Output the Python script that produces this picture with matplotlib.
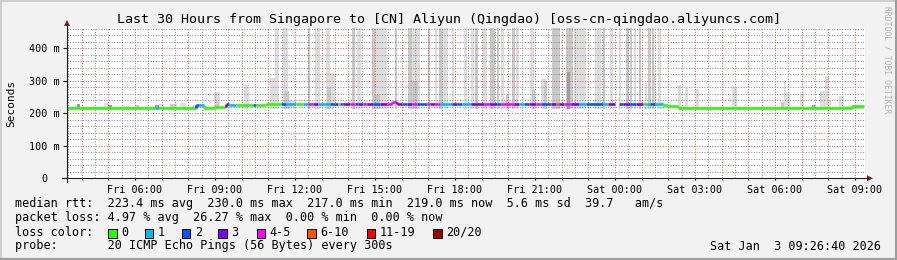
import numpy as np
import matplotlib.pyplot as plt
from matplotlib.patches import Rectangle, Polygon
from matplotlib.lines import Line2D
from matplotlib.ticker import MultipleLocator
from matplotlib.transforms import ScaledTranslation

# time axis: hours since Fri 00:00
# median rtt line, one segment per entry (start hour, ms, loss class)
seg_start = [3.45, 6.76, 6.89, 8.29, 8.41, 8.60, 8.98, 9.41, 9.54, 9.79, 10.41, 10.54,
             10.91, 11.48, 11.66, 12.04, 12.29, 12.48, 12.66, 12.85, 13.31, 13.50, 13.63,
             13.69, 13.81, 14.06, 14.25, 14.38, 14.56, 14.69, 14.94, 15.19, 15.44, 15.63,
             15.81, 16.00, 16.19, 16.38, 16.56, 16.94, 17.06, 17.25, 17.44, 17.88, 18.06,
             18.25, 18.59, 19.09, 19.28, 19.59, 19.71, 20.21, 20.40, 20.59, 20.78, 21.03,
             21.21, 21.59, 21.78, 21.90, 22.09, 22.34, 22.65, 22.90, 23.55, 23.74, 23.99,
             24.14, 24.30, 24.55, 24.80, 25.05, 25.18, 25.30, 25.49, 25.80, 26.00, 26.36,
             32.89]
seg_ms = [216, 216, 216, 224, 224, 216, 219, 229, 224, 224, 224, 226,
          229, 229, 229, 229, 229, 229, 229, 229, 229, 229, 229,
          229, 229, 229, 229, 229, 229, 229, 229, 229, 229, 234,
          229, 229, 229, 229, 229, 229, 229, 229, 229, 229, 229,
          229, 229, 229, 229, 229, 229, 229, 229, 229, 229, 229,
          229, 229, 229, 229, 229, 229, 229, 229, 229, 229, np.nan,
          229, 229, 229, 229, 229, 229, 229, 229, 226, 222, 217,
          222]
seg_loss = [0, 1, 0, 2, 1, 0, 0, 3, 1, 0, 2, 0,
            0, 2, 1, 0, 1, 4, 3, 1, 2, 3, 0,
            2, 3, 4, 2, 3, 4, 3, 2, 3, 4, 4,
            3, 2, 3, 4, 2, 4, 3, 4, 1, 3, 2,
            1, 3, 4, 3, 2, 4, 3, 1, 2, 3, 4,
            2, 3, 5, 3, 4, 3, 1, 2, 1, 3, 0,
            2, 3, 2, 3, 0, 1, 2, 1, 0, 0, 0,
            0]
line_end = 33.33

# smoke (ping spread), 500 = beyond the top of the graph
smoke_start = [3.74, 3.83, 4.83, 4.98, 5.58, 5.99, 6.74, 6.89, 7.32, 7.51, 7.70, 8.14,
               8.97, 9.03, 10.10, 11.06, 11.25, 11.56, 11.60, 11.79, 12.48, 12.76, 13.16,
               13.31, 13.20, 14.13, 14.31, 14.88, 15.00, 15.00, 15.75, 16.25, 16.38, 16.25,
               16.98, 17.25, 17.41, 17.50, 17.88, 18.34, 18.59, 18.74, 19.06, 19.31, 19.56,
               19.74, 19.90, 20.13, 20.28, 20.80, 20.90, 21.21, 21.34, 21.63, 22.16, 22.21,
               22.46, 23.24, 23.55, 23.80, 24.14, 24.42, 24.57, 24.71, 24.89, 25.11, 25.24,
               25.39, 25.46, 25.61, 25.74, 26.36, 26.64, 27.05, 28.39, 30.23, 30.32, 30.41,
               30.95, 31.39, 31.70, 31.89, 32.01, 32.39, 32.58, 32.89]
smoke_end = [3.95, 3.95, 4.98, 5.14, 5.76, 6.14, 6.89, 7.08, 7.51, 7.58, 7.91, 8.36,
             9.19, 9.15, 10.29, 11.39, 11.41, 11.75, 11.79, 12.04, 12.57, 12.95, 13.31,
             13.50, 13.35, 14.25, 14.46, 15.00, 15.46, 15.19, 15.81, 16.38, 16.69, 16.60,
             17.06, 17.34, 17.50, 17.75, 17.96, 18.46, 18.71, 18.86, 19.19, 19.49, 19.65,
             19.84, 20.03, 20.25, 20.40, 20.96, 20.99, 21.40, 21.46, 21.93, 22.44, 22.31,
             22.90, 23.49, 23.64, 23.92, 24.24, 24.51, 24.65, 24.80, 24.96, 25.21, 25.34,
             25.46, 25.55, 25.74, 25.86, 26.46, 26.74, 27.15, 28.58, 30.32, 30.41, 30.57,
             31.08, 31.49, 31.86, 32.01, 32.10, 32.58, 32.89, 33.33]
smoke_top = [226, 228, 233, 226, 222, 226, 226, 229, 229, 233, 233, 226,
             266, 235, 288, 309, 500, 500, 269, 237, 500, 500, 500,
             323, 280, 500, 500, 500, 500, 257, 500, 500, 500, 296,
             500, 500, 500, 500, 500, 500, 500, 500, 500, 500, 500,
             500, 255, 500, 500, 500, 271, 305, 298, 500, 500, 327,
             500, 500, 500, 500, 500, 500, 500, 500, 500, 296, 500,
             500, 317, 500, 235, 288, 278, 276, 281, 235, 298, 265,
             266, 226, 268, 314, 239, 253, 223, 226]
smoke_shade = [0, 2, 0, 2, 0, 1, 2, 0, 1, 0, 0, 0,
               0, 1, 0, 0, 0, 0, 1, 0, 1, 0, 0,
               0, 1, 1, 0, 1, 0, 1, 1, 1, 0, 1,
               1, 0, 1, 0, 0, 0, 0, 1, 0, 1, 1,
               0, 1, 1, 0, 0, 1, 0, 1, 1, 1, 2,
               0, 0, 1, 0, 0, 1, 1, 0, 1, 0, 1,
               1, 0, 0, 0, 0, 0, 0, 0, 1, 0, 0,
               0, 2, 0, 0, 0, 0, 0, 1]
smoke_bottom = 212

tick_hours = [6, 9, 12, 15, 18, 21, 24, 27, 30, 33]
tick_labels = ['Fri 06:00', 'Fri 09:00', 'Fri 12:00', 'Fri 15:00', 'Fri 18:00',
               'Fri 21:00', 'Sat 00:00', 'Sat 03:00', 'Sat 06:00', 'Sat 09:00']
y_ticks = [0, 100, 200, 300, 400]
y_labels = ['0', '100 m', '200 m', '300 m', '400 m']

loss_labels = ['0', '1', '2', '3', '4-5', '6-10', '11-19', '20/20']
loss_colors = ['#26ff00', '#00b8ff', '#0059ff', '#7e00ff', '#ff00ff', '#ff5500', '#ff0000', '#a10000']
shade_colors = ['#dddddd', '#c8c8c8', '#a0a0a0']

title = 'Last 30 Hours from Singapore to [CN] Aliyun (Qingdao) [oss-cn-qingdao.aliyuncs.com]'
rtt_line = 'median rtt:  223.4 ms avg  230.0 ms max  217.0 ms min  219.0 ms now  5.6 ms sd  39.7   am/s'
loss_line = 'packet loss: 4.97 % avg  26.27 % max  0.00 % min  0.00 % now'
probe_line = 'probe:       20 ICMP Echo Pings (56 Bytes) every 300s'
stamp = 'Sat Jan  3 09:26:40 2026'

W, H = 897, 260
mono = 'DejaVu Sans Mono'


def fx(x):
    return x / W


def fy(y):
    return 1 - y / H


fig = plt.figure(figsize=(W / 100, H / 100), dpi=100, facecolor='#f2f2f2')

# frame shading
fig.add_artist(Line2D([0, 1], [fy(0.5), fy(0.5)], color='#cfcfcf', lw=1.5))
fig.add_artist(Line2D([fx(0.5), fx(0.5)], [0, 1], color='#cfcfcf', lw=1.5))
fig.add_artist(Line2D([fx(896), fx(896)], [0, 1], color='#9e9e9e', lw=1.5))
fig.add_artist(Line2D([0, 1], [fy(259), fy(259)], color='#9e9e9e', lw=1.5))

x0, x1 = 67, 865
ytop, ybot = 28.3, 178.3
ax = fig.add_axes([fx(x0), fy(ybot), (x1 - x0) / W, (ybot - ytop) / H])
ax.set_facecolor('white')
ax.set_xlim(3.45, 3.45 + (x1 - x0) / 26.667)
ax.set_ylim(0, 461.5)

# smoke
for s, e, t, sh in zip(smoke_start, smoke_end, smoke_top, smoke_shade):
    ax.bar(s, t - smoke_bottom, width=e - s, bottom=smoke_bottom, align='edge',
           color=shade_colors[sh], linewidth=0, zorder=1 + sh * 0.1)

# median line coloured by loss
ends = seg_start[1:] + [line_end]
prev = None
for s, e, v, l in zip(seg_start, ends, seg_ms, seg_loss):
    if np.isnan(v):
        prev = None
        continue
    c = loss_colors[l]
    ax.plot([s, e], [v, v], color=c, lw=1.9, solid_capstyle='butt', zorder=4)
    if prev is not None and prev != v:
        ax.plot([s, s], [prev, v], color=c, lw=1.9, solid_capstyle='butt', zorder=4)
    prev = v

# grid
ax.set_xticks(np.arange(4, 34, 1))
ax.set_xticklabels([tick_labels[tick_hours.index(h)] if h in tick_hours else ''
                    for h in range(4, 34)])
ax.xaxis.set_minor_locator(MultipleLocator(0.5))
ax.set_yticks(y_ticks)
ax.set_yticklabels(y_labels)
ax.yaxis.set_minor_locator(MultipleLocator(20))
ax.set_axisbelow(False)
ax.grid(which='major', color=(0.9, 0.35, 0.35, 0.38), lw=0.72, linestyle=(0, (1, 1.6)))
ax.grid(which='minor', color=(0.56, 0.56, 0.56, 0.3), lw=0.72, linestyle=(0, (1, 1.6)))

ax.tick_params(axis='x', which='major', length=1.5, pad=3, labelsize=7.3, color='#1f1f1f')
ax.tick_params(axis='y', which='major', length=3, pad=2, labelsize=7.3, color='#1f1f1f')
ax.tick_params(which='minor', length=0)
for lab in ax.get_xticklabels() + ax.get_yticklabels():
    lab.set_family(mono)
zero = ax.get_yticklabels()[0]
zero.set_transform(zero.get_transform() + ScaledTranslation(-0.13, 0, fig.dpi_scale_trans))

for sp in ax.spines.values():
    sp.set_visible(False)

# axes with arrows
axis_col = '#1f1f1f'
fig.add_artist(Line2D([fx(67), fx(67)], [fy(182), fy(24)], color=axis_col, lw=0.8))
fig.add_artist(Line2D([fx(62), fx(868)], [fy(178.3), fy(178.3)], color=axis_col, lw=0.8))
fig.add_artist(Polygon([[fx(64), fy(26)], [fx(70), fy(26)], [fx(67), fy(20)]],
                       closed=True, color='#801f1f', lw=0))
fig.add_artist(Polygon([[fx(867), fy(175.3)], [fx(867), fy(181.3)], [fx(873), fy(178.3)]],
                       closed=True, color='#801f1f', lw=0))

# texts
fig.text(0.5, fy(19), title, ha='center', va='center', fontsize=9.6, family=mono)
fig.text(fx(11), fy(103), 'Seconds', rotation=90, ha='center', va='center',
         fontsize=8, family=mono)
fig.text(fx(887), fy(60), 'RRDTOOL / TOBI OETIKER', rotation=270, ha='center',
         va='center', fontsize=5.8, family=mono, color='#b4b4b4')

fs = 8.5
fig.text(fx(14.6), fy(204), rtt_line, va='center', fontsize=fs, family=mono)
fig.text(fx(14.6), fy(218), loss_line, va='center', fontsize=fs, family=mono)
fig.text(fx(14.6), fy(232), 'loss color:', va='center', fontsize=fs, family=mono)
fig.text(fx(14.6), fy(246), probe_line, va='center', fontsize=fs, family=mono)
fig.text(fx(881), fy(246), stamp, ha='right', va='center', fontsize=fs, family=mono)

box_x = [108.3, 145, 181.7, 218.3, 256.7, 307.3, 366.7, 433.3]
for bx, lab, col in zip(box_x, loss_labels, loss_colors):
    fig.add_artist(Rectangle((fx(bx), fy(237.5)), 8.3 / W, 8.3 / H, facecolor=col,
                             edgecolor='black', lw=0.7, transform=fig.transFigure))
    fig.text(fx(bx + 13), fy(232), lab, va='center', fontsize=fs, family=mono)

fig.savefig('out.png', dpi=100, facecolor=fig.get_facecolor())
